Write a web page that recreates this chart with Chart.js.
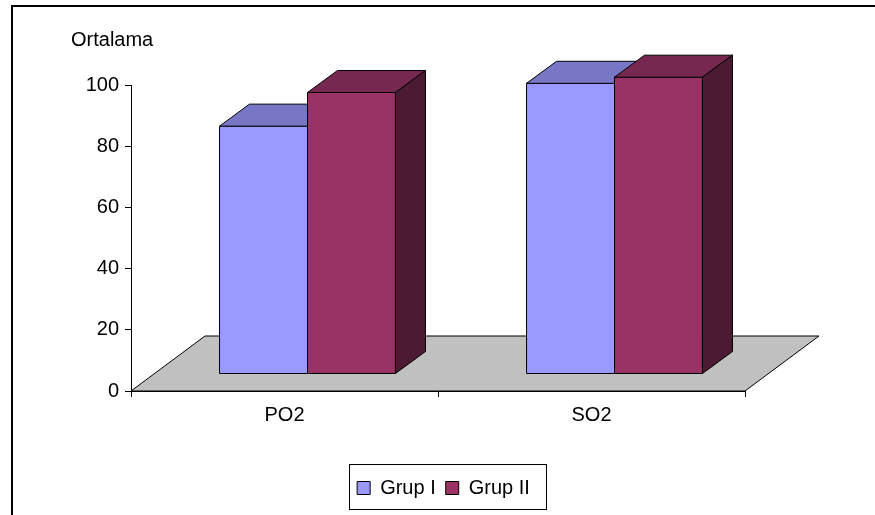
<!DOCTYPE html>
<html>
<head>
<meta charset="utf-8">
<script src="https://cdn.jsdelivr.net/npm/chart.js@4"></script>
<style>
  html, body { margin: 0; padding: 0; background: #fff; }
  #wrap { width: 875px; height: 515px; }
</style>
</head>
<body>
<div id="wrap"><canvas id="chart" width="875" height="515"></canvas></div>
<script>
// Data
const categories = ['PO2', 'SO2'];
const grupI = [81, 95];
const grupII = [92, 97];
const yTicks = [0, 20, 40, 60, 80, 100];
const axisTitle = 'Ortalama';

const FONT = '"Liberation Sans", Arial, sans-serif';

// 3D look (pixels)
const FLOOR_DX = 74, FLOOR_DY = -55;   // floor depth
const BAR_OX = 23, BAR_OY = -17;       // bar front face pushed into the depth
const BAR_DX = 30, BAR_DY = -22;       // bar depth

// face colours per series: front, top, side
const SHADES = [
    { front: '#9999ff', top: '#7777c6', side: '#4c4c80' },
    { front: '#993366', top: '#772850', side: '#4c1a33' }
];

function poly(ctx, pts, fill) {
    ctx.beginPath();
    ctx.moveTo(pts[0][0], pts[0][1]);
    for (let i = 1; i < pts.length; i++) ctx.lineTo(pts[i][0], pts[i][1]);
    ctx.closePath();
    ctx.fillStyle = fill;
    ctx.fill();
    ctx.stroke();
}

// floor + 3D boxes, drawn from the bar elements Chart.js laid out
const bars3d = {
    id: 'bars3d',
    beforeDatasetsDraw(chart) {
        const ctx = chart.ctx;
        const a = chart.chartArea;
        ctx.save();
        ctx.strokeStyle = '#000';
        ctx.lineWidth = 1;
        poly(ctx, [
            [a.left, a.bottom], [a.right, a.bottom],
            [a.right + FLOOR_DX, a.bottom + FLOOR_DY], [a.left + FLOOR_DX, a.bottom + FLOOR_DY]
        ], '#c0c0c0');

        const metas = chart.data.datasets.map((d, i) => chart.getDatasetMeta(i));
        for (let c = 0; c < categories.length; c++) {
            metas.forEach((meta, s) => {
                const el = meta.data[c];
                const sh = SHADES[s];
                const l = el.x - el.width / 2 + BAR_OX;
                const r = el.x + el.width / 2 + BAR_OX;
                const t = el.y + BAR_OY;
                const b = el.base + BAR_OY;
                // front
                poly(ctx, [[l, t], [r, t], [r, b], [l, b]], sh.front);
                // top
                poly(ctx, [[l, t], [r, t], [r + BAR_DX, t + BAR_DY], [l + BAR_DX, t + BAR_DY]], sh.top);
                // side
                poly(ctx, [[r, t], [r + BAR_DX, t + BAR_DY], [r + BAR_DX, b + BAR_DY], [r, b]], sh.side);
            });
        }
        ctx.restore();
        return false;
    },
    afterDraw(chart) {
        const ctx = chart.ctx;
        ctx.save();
        // outer frame
        ctx.strokeStyle = '#000';
        ctx.lineWidth = 2;
        ctx.strokeRect(12, 6, 900, 600);
        // axis title
        ctx.fillStyle = '#000';
        ctx.font = '20px ' + FONT;
        ctx.textBaseline = 'middle';
        ctx.textAlign = 'left';
        ctx.fillText(axisTitle, 71, 40);
        // legend border
        const boxes = chart.legend.legendHitBoxes;
        if (boxes && boxes.length) {
            const left = Math.min(...boxes.map(h => h.left));
            const right = Math.max(...boxes.map(h => h.left + h.width));
            const mid = boxes[0].top + boxes[0].height / 2;
            ctx.lineWidth = 1;
            ctx.strokeRect(Math.round(left - 8) + 0.5, Math.round(mid - 24) + 0.5,
                Math.round(right - left + 24), 45);
        }
        ctx.restore();
    }
};

new Chart(document.getElementById('chart'), {
    type: 'bar',
    data: {
        labels: categories,
        datasets: [
            { label: 'Grup I', data: grupI, backgroundColor: SHADES[0].front, borderColor: '#000', borderWidth: 1 },
            { label: 'Grup II', data: grupII, backgroundColor: SHADES[1].front, borderColor: '#000', borderWidth: 1 }
        ]
    },
    options: {
        responsive: false,
        animation: false,
        events: [],
        categoryPercentage: 0.573,
        barPercentage: 1,
        layout: { padding: { left: 12, right: 0, top: 85, bottom: 7 } },
        plugins: {
            legend: {
                position: 'bottom',
                labels: {
                    color: '#000',
                    font: { family: FONT, size: 20 },
                    boxWidth: 13,
                    boxHeight: 13,
                    padding: 10
                }
            },
            tooltip: { enabled: false }
        },
        scales: {
            x: {
                grid: { display: true, drawOnChartArea: false, color: '#000', tickLength: 6, offset: true },
                border: { color: '#000' },
                ticks: { color: '#000', font: { family: FONT, size: 20 }, padding: 6 },
                afterFit: s => { s.height = 77; }
            },
            y: {
                min: 0,
                max: 100,
                afterBuildTicks: s => { s.ticks = yTicks.map(v => ({ value: v })); },
                grid: { display: true, drawOnChartArea: false, color: '#000', tickLength: 6 },
                border: { color: '#000' },
                ticks: { color: '#000', font: { family: FONT, size: 20 }, padding: 6 },
                afterFit: s => { s.width = 119; }
            },
            // empty right-hand box so the plot area ends where the reference's does
            yR: {
                position: 'right',
                grid: { display: false },
                border: { display: false },
                ticks: { display: false },
                afterFit: s => { s.width = 130; }
            }
        }
    },
    plugins: [bars3d]
});
</script>
</body>
</html>
